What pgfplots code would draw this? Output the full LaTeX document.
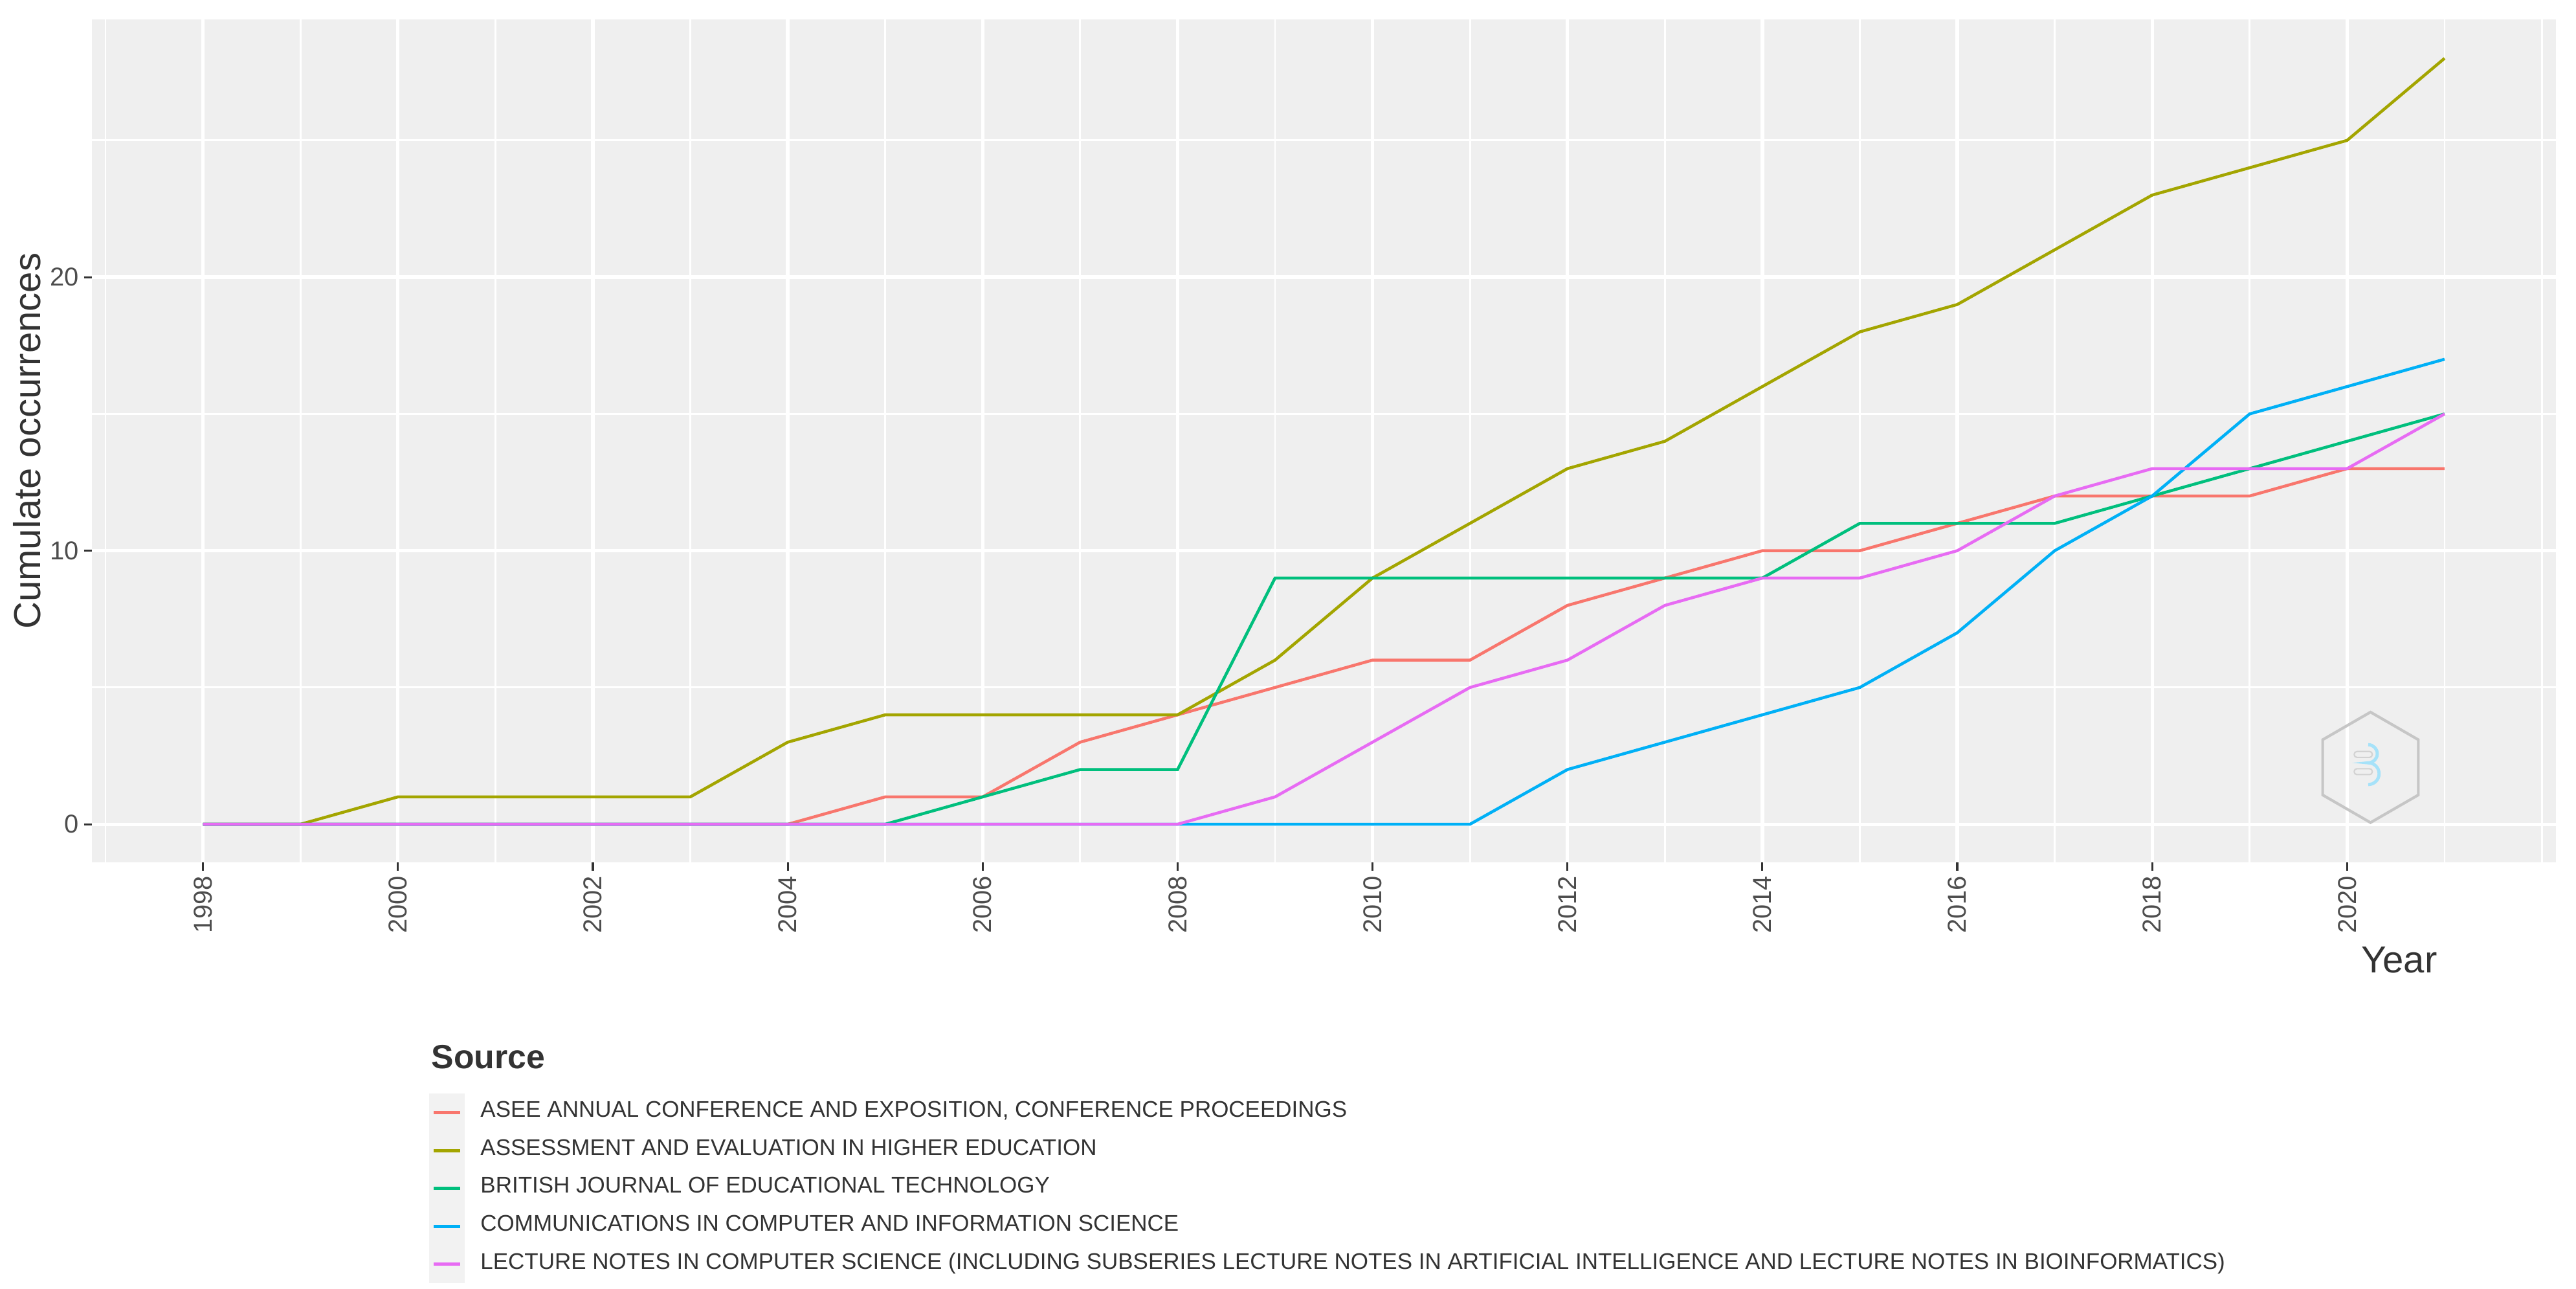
\documentclass[border=0pt]{standalone}
\usepackage{fontspec}
\setmainfont{Liberation Sans}
\usepackage{pgfplots}
\pgfplotsset{compat=1.18}

\definecolor{cASEE}{HTML}{F8766D}
\definecolor{cAEHE}{HTML}{A3A500}
\definecolor{cBJET}{HTML}{00BF7D}
\definecolor{cCCIS}{HTML}{00B0F6}
\definecolor{cLNCS}{HTML}{E76BF3}
\definecolor{panelbg}{HTML}{EFEFEF}
\definecolor{keybg}{HTML}{F2F2F2}
\definecolor{tickgray}{HTML}{4D4D4D}
\definecolor{txtgray}{HTML}{333333}

\begin{document}
\begin{tikzpicture}
% page = 3980x1990 px, 1 px = 0.143 pt, panel corner at px (142,1332)
\path[use as bounding box] (-20.3pt,-94.1pt) rectangle (548.8pt,190.5pt);

\begin{axis}[
    width=544.3pt, height=186.2pt,
    scale only axis,
    xmin=1996.86, xmax=2022.14,
    ymin=-1.4, ymax=29.42,
    xtick={1998,2000,...,2020},
    minor xtick={1997,1999,...,2021,2022},
    ytick={0,10,20},
    minor ytick={5,15,25},
    grid=both,
    major grid style={white, line width=0.75pt},
    minor grid style={white, line width=0.4pt},
    axis background/.style={fill=panelbg},
    axis line style={draw=none},
    tick align=outside,
    xtick pos=bottom, ytick pos=left,
    major tick length=1.75pt,
    minor tick length=0pt,
    tick style={txtgray, line width=0.45pt},
    /pgf/number format/1000 sep={},
    /pgf/number format/assume math mode=true,
    tick label style={font=\fontsize{5.7}{6}\selectfont, text=tickgray, inner sep=1pt},
    xticklabel style={rotate=90, anchor=east},
    every axis plot/.append style={line width=0.65pt},
    legend cell align=left,
    legend style={
        at={(axis description cs:0.1369,-0.2742)}, anchor=north west,
        draw=none, fill=none, inner sep=0pt, outer sep=0pt,
        row sep=0pt, column sep=3.5pt,
        font=\fontsize{5.0}{5.5}\selectfont, text=txtgray,
        nodes={inner sep=0pt, anchor=west},
    },
    legend image code/.code={
        \fill[keybg] (0pt,-3.86pt) rectangle (7.2pt,3.86pt);
        \draw[#1, line width=0.7pt] (0.7pt,0pt) -- (6.5pt,0pt);
    },
]

\addplot[cASEE] coordinates {
(1998,0) (1999,0) (2000,0) (2001,0) (2002,0) (2003,0) (2004,0) (2005,1)
(2006,1) (2007,3) (2008,4) (2009,5) (2010,6) (2011,6) (2012,8) (2013,9)
(2014,10) (2015,10) (2016,11) (2017,12) (2018,12) (2019,12) (2020,13) (2021,13)
};
\addlegendentry{ASEE ANNUAL CONFERENCE AND EXPOSITION, CONFERENCE PROCEEDINGS}

\addplot[cAEHE] coordinates {
(1998,0) (1999,0) (2000,1) (2001,1) (2002,1) (2003,1) (2004,3) (2005,4)
(2006,4) (2007,4) (2008,4) (2009,6) (2010,9) (2011,11) (2012,13) (2013,14)
(2014,16) (2015,18) (2016,19) (2017,21) (2018,23) (2019,24) (2020,25) (2021,28)
};
\addlegendentry{ASSESSMENT AND EVALUATION IN HIGHER EDUCATION}

\addplot[cBJET] coordinates {
(1998,0) (1999,0) (2000,0) (2001,0) (2002,0) (2003,0) (2004,0) (2005,0)
(2006,1) (2007,2) (2008,2) (2009,9) (2010,9) (2011,9) (2012,9) (2013,9)
(2014,9) (2015,11) (2016,11) (2017,11) (2018,12) (2019,13) (2020,14) (2021,15)
};
\addlegendentry{BRITISH JOURNAL OF EDUCATIONAL TECHNOLOGY}

\addplot[cCCIS] coordinates {
(1998,0) (1999,0) (2000,0) (2001,0) (2002,0) (2003,0) (2004,0) (2005,0)
(2006,0) (2007,0) (2008,0) (2009,0) (2010,0) (2011,0) (2012,2) (2013,3)
(2014,4) (2015,5) (2016,7) (2017,10) (2018,12) (2019,15) (2020,16) (2021,17)
};
\addlegendentry{COMMUNICATIONS IN COMPUTER AND INFORMATION SCIENCE}

\addplot[cLNCS] coordinates {
(1998,0) (1999,0) (2000,0) (2001,0) (2002,0) (2003,0) (2004,0) (2005,0)
(2006,0) (2007,0) (2008,0) (2009,1) (2010,3) (2011,5) (2012,6) (2013,8)
(2014,9) (2015,9) (2016,10) (2017,12) (2018,13) (2019,13) (2020,13) (2021,15)
};
\addlegendentry{LECTURE NOTES IN COMPUTER SCIENCE (INCLUDING SUBSERIES LECTURE NOTES IN ARTIFICIAL INTELLIGENCE AND LECTURE NOTES IN BIOINFORMATICS)}

% watermark logo: grey hexagon with a faint blue "B"
\coordinate (logo) at (axis cs:2020.24,2.08);
\draw[gray!45, line width=0.6pt] (logo) ++(90:12.2pt)
    -- ++(210:12.2pt) -- ++(270:12.2pt) -- ++(330:12.2pt)
    -- ++(30:12.2pt) -- ++(90:12.2pt) -- cycle;
\draw[gray!35, line width=0.3pt, rounded corners=0.6pt]
    ([shift={(-3.6pt,2.2pt)}]logo) rectangle ++(4pt,1.3pt)
    ([shift={(-3.6pt,-1.6pt)}]logo) rectangle ++(4pt,1.3pt);
\draw[cyan!35, line width=0.7pt]
    ([shift={(-0.5pt,5pt)}]logo) arc[start angle=90, end angle=-90, radius=2pt]
    arc[start angle=90, end angle=-90, radius=2.4pt];
\end{axis}

\node[rotate=90, inner sep=0pt, font=\fontsize{8.3}{9}\selectfont, text=txtgray]
    at (-14.4pt,93.1pt) {Cumulate occurrences};
\node[anchor=base east, inner sep=0pt, font=\fontsize{8.3}{9}\selectfont, text=txtgray]
    at (518.3pt,-24.3pt) {Year};
\node[anchor=west, inner sep=0pt, font=\bfseries\fontsize{7.4}{9}\selectfont, text=txtgray]
    at (74.8pt,-42.9pt) {Source};
\end{tikzpicture}
\end{document}
